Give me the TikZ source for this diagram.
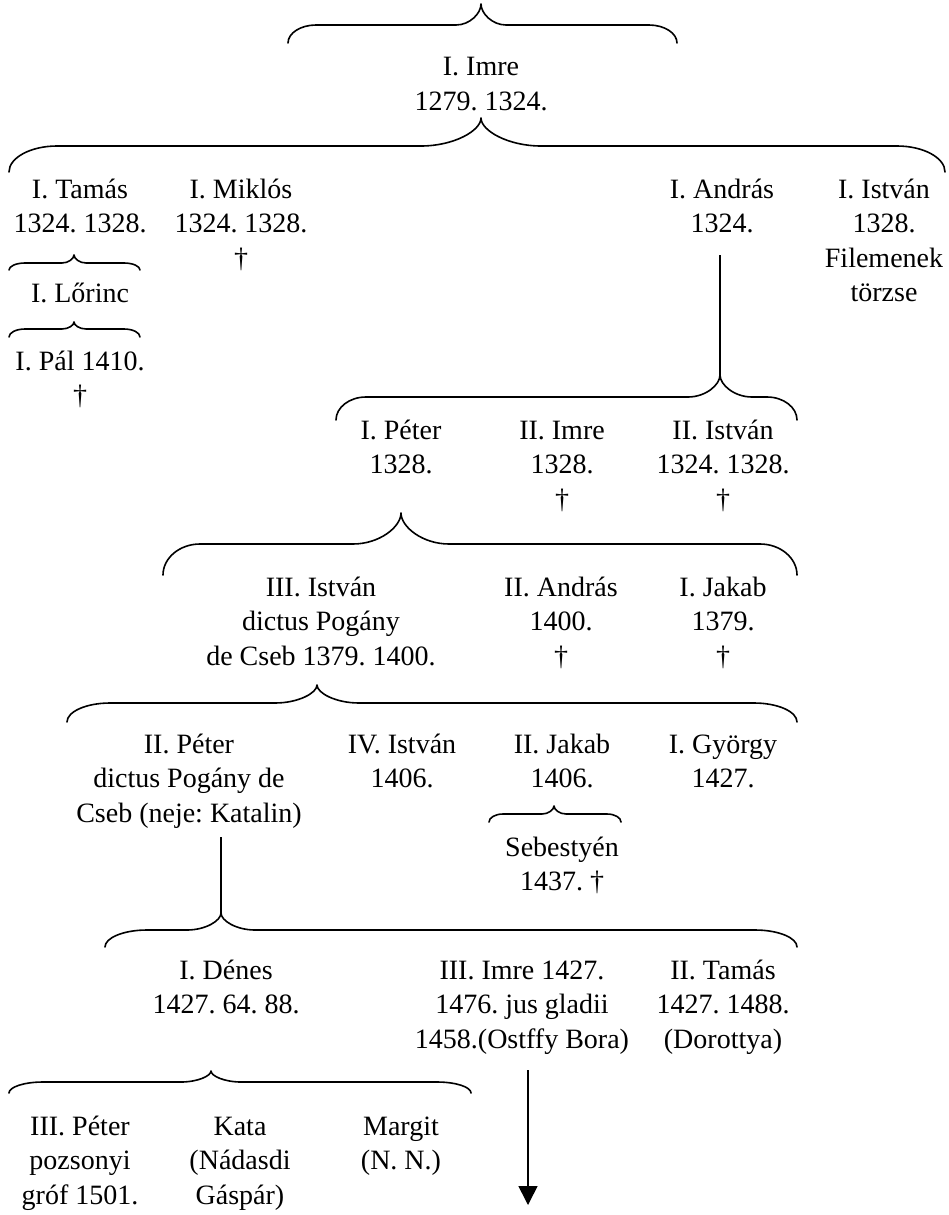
\documentclass[tikz,border=0pt]{standalone}
\usepackage{fontspec}
\setmainfont{Liberation Serif}
\usetikzlibrary{arrows.meta}
\frenchspacing
\newcommand\glines[1]{\vtop{\halign{\hfil##\hfil\cr#1\crcr}}}
% #1 name, #2 xl, #3 xr, #4 xt, #5 yt, #6 yl, #7 ye, #8 wt, #9 we
\newcommand\hbrace[9]{%
  \coordinate (#1-l) at (#2,#7);
  \coordinate (#1-r) at (#3,#7);
  \coordinate (#1-t) at (#4,#5);
  \draw[bracestyle] (#1-l)
    .. controls (#2,{#6+0.45*(#7-#6)}) and ({#2+0.45*#9},#6) .. ({#2+#9},#6)
    -- ({#4-#8},#6)
    .. controls ({#4-0.45*#8},#6) and (#4,{#6-0.55*(#6-#5)}) .. (#1-t)
    .. controls (#4,{#6-0.55*(#6-#5)}) and ({#4+0.45*#8},#6) .. ({#4+#8},#6)
    -- ({#3-#9},#6)
    .. controls ({#3-0.45*#9},#6) and (#3,{#6+0.45*(#7-#6)}) .. (#1-r);
}
\begin{document}
\begin{tikzpicture}[x=1pt,y=-1pt,
  gen/.style={anchor=base,inner sep=0pt,font=\fontsize{28}{34.5}\selectfont\frenchspacing},
  bracestyle/.style={line width=1.6pt,line cap=round,line join=round},
  conn/.style={line width=1.6pt}]
\useasboundingbox[fill=white] (0,0) rectangle (948,1215);

% persons
\node[gen] (imre1) at (481,76) {\glines{I. Imre\cr 1279. 1324.}};
\node[gen] (tamas1) at (80,198) {\glines{I. Tamás\cr 1324. 1328.}};
\node[gen] (miklos1) at (241,198) {\glines{I. Miklós\cr 1324. 1328.\cr †}};
\node[gen] (andras1) at (722,198) {\glines{I. András\cr 1324.}};
\node[gen] (istvan1) at (884,198) {\glines{I. István\cr 1328.\cr Filemenek\cr törzse}};
\node[gen] (lorinc1) at (80,302) {\glines{I. Lőrinc}};
\node[gen] (pal1) at (80,370) {\glines{I. Pál 1410.\cr †}};
\node[gen] (peter1) at (401,439) {\glines{I. Péter\cr 1328.}};
\node[gen] (imre2) at (562,439) {\glines{II. Imre\cr 1328.\cr †}};
\node[gen] (istvan2) at (723,439) {\glines{II. István\cr 1324. 1328.\cr †}};
\node[gen] (istvan3) at (321,596) {\glines{III. István\cr dictus Pogány\cr de Cseb 1379. 1400.}};
\node[gen] (andras2) at (561,596) {\glines{II. András\cr 1400.\cr †}};
\node[gen] (jakab1) at (723,596) {\glines{I. Jakab\cr 1379.\cr †}};
\node[gen] (peter2) at (189,753) {\glines{II. Péter\cr dictus Pogány de\cr Cseb (neje: Katalin)}};
\node[gen] (istvan4) at (402,753) {\glines{IV. István\cr 1406.}};
\node[gen] (jakab2) at (562,753) {\glines{II. Jakab\cr 1406.}};
\node[gen] (gyorgy1) at (723,753) {\glines{I. György\cr 1427.}};
\node[gen] (sebestyen) at (562,856) {\glines{Sebestyén\cr 1437. †}};
\node[gen] (denes1) at (226,979) {\glines{I. Dénes\cr 1427. 64. 88.}};
\node[gen] (imre3) at (522,979) {\glines{III. Imre 1427.\cr 1476. jus gladii\cr 1458.(Ostffy Bora)}};
\node[gen] (tamas2) at (723,979) {\glines{II. Tamás\cr 1427. 1488.\cr (Dorottya)}};
\node[gen] (peter3) at (80,1135) {\glines{III. Péter\cr pozsonyi\cr gróf 1501.}};
\node[gen] (kata) at (240,1135) {\glines{Kata\cr (Nádasdi\cr Gáspár)}};
\node[gen] (margit) at (401,1135) {\glines{Margit\cr (N. N.)}};

% braces
\hbrace{bimre}{288}{677}{481}{4}{25}{43}{25}{28}
\hbrace{bimrek}{9}{945}{481}{118}{146}{172}{60}{48}
\hbrace{btamas}{9}{140}{74}{255}{263}{270}{12}{16}
\hbrace{blorinc}{9}{140}{74}{322}{329}{337}{12}{16}
\hbrace{bandras}{336}{797}{720}{375}{397}{420}{32}{30}
\hbrace{bpeter}{163}{797}{401}{513}{544}{575}{48}{37}
\hbrace{bistvan}{67}{797}{317}{685}{703}{722}{42}{43}
\hbrace{bjakab}{489}{621}{554}{806}{814}{822}{12}{14}
\hbrace{bpeter2}{105}{797}{221}{913}{930}{947}{34}{42}
\hbrace{bdenes}{9}{471}{211}{1071}{1082}{1093}{30}{34}

% vertical connectors
\coordinate (andras1-s) at (720,255);
\coordinate (peter2-s) at (221,837);
\coordinate (imre3-s) at (528,1070);
\coordinate (imre3-end) at (528,1205);
\draw[conn] (andras1-s) -- (bandras-t);
\draw[conn] (peter2-s) -- (bpeter2-t);
\draw[conn,-{Triangle[width=19pt,length=19pt]}] (imre3-s) -- (imre3-end);
\end{tikzpicture}
\end{document}
